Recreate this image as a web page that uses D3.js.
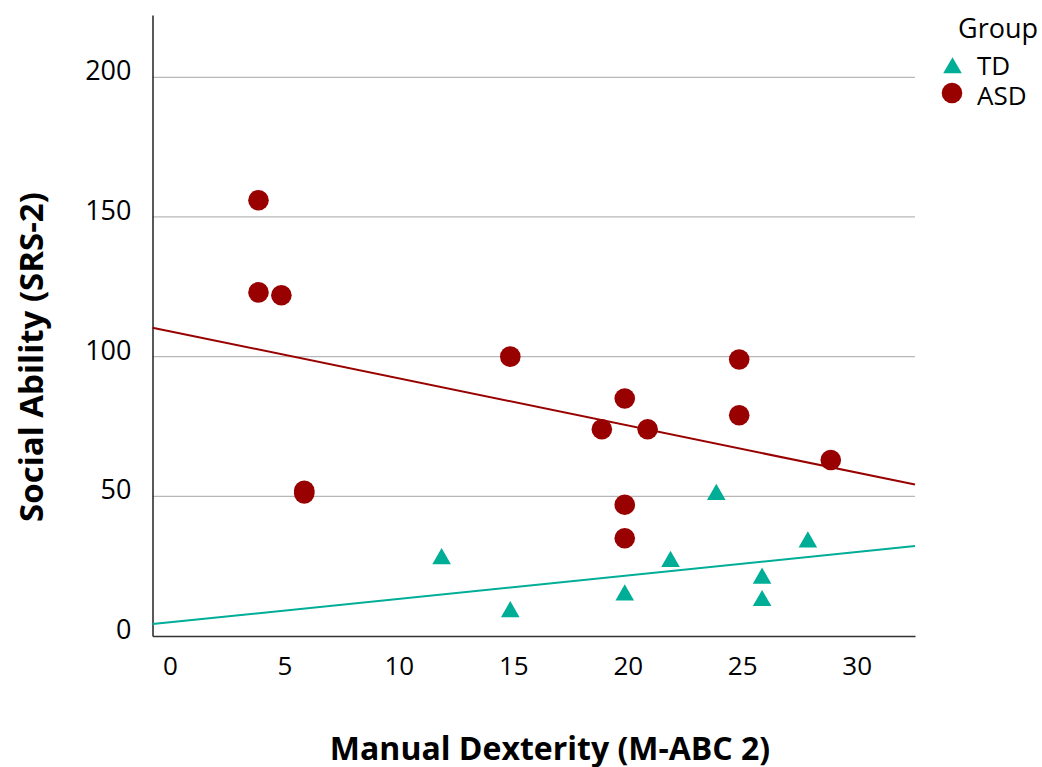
<!DOCTYPE html>
<html>
<head>
<meta charset="utf-8">
<script src="https://cdn.jsdelivr.net/npm/d3@7"></script>
<style>
  body { margin: 0; background: #fff; }
  svg { display: block; }
  text { font-family: "Open Sans", "Lato", sans-serif; fill: #000; }
</style>
</head>
<body>
<svg id="chart" width="1042" height="767"></svg>
<script>
// ---- data ----
const asdX = [4, 4, 5, 6, 6, 15, 19, 20, 21, 20, 20, 25, 25, 29];
const asdY = [156, 123, 122, 52, 51, 100, 74, 85, 74, 47, 35, 99, 79, 63];
const tdX = [12, 15, 20, 22, 24, 26, 26, 28];
const tdY = [28, 9, 15, 27, 51, 21, 13, 34];
// fitted lines (intercept, slope) as drawn in the reference
const groups = ["TD", "ASD"];
const fitIntercept = [4.8, 109.3];
const fitSlope = [0.838, -1.686];
const yTicks = [0, 50, 100, 150, 200];
const xTicks = [0, 5, 10, 15, 20, 25, 30];

const colors = { TD: "#00ae98", ASD: "#990000" };
const FONT = "'Open Sans', Lato, sans-serif";

const svg = d3.select("#chart");
const x = d3.scaleLinear().domain([-0.63, 32.68]).range([152.5, 915]);
const y = d3.scaleLinear().domain([0, 222.3]).range([636, 15]);

// gridlines
svg.append("g").selectAll("line").data(yTicks.filter(d => d > 0)).join("line")
  .attr("x1", x.range()[0]).attr("x2", x.range()[1])
  .attr("y1", d => y(d)).attr("y2", d => y(d))
  .attr("stroke", "#b8b8b8").attr("stroke-width", 1.3);

// axes (no tick marks)
const yAxis = svg.append("g").attr("transform", `translate(${x.range()[0]},0)`)
  .call(d3.axisLeft(y).tickValues(yTicks).tickSize(0).tickPadding(21));
yAxis.select(".domain").attr("stroke", "#222").attr("stroke-width", 1.5);
yAxis.selectAll("text").attr("font-size", 27).attr("y", -7).attr("dy", "0.35em")
  .style("font-family", FONT);

const xAxis = svg.append("g").attr("transform", `translate(0,${y(0)})`)
  .call(d3.axisBottom(x).tickValues(xTicks).tickSize(0));
xAxis.select(".domain").attr("stroke", "#333").attr("stroke-width", 1.5);
xAxis.selectAll("text").attr("font-size", 26).attr("y", 30).attr("dy", "0.35em").attr("dx", 3)
  .style("font-family", FONT);

// regression lines
const [xa, xb] = x.domain();
groups.forEach((g, i) => {
  svg.append("line")
    .attr("x1", x(xa)).attr("y1", y(fitIntercept[i] + fitSlope[i] * xa))
    .attr("x2", x(xb)).attr("y2", y(fitIntercept[i] + fitSlope[i] * xb))
    .attr("stroke", colors[g]).attr("stroke-width", 2);
});

// points
const tri = d3.symbol().type(d3.symbolTriangle).size(150);
svg.append("g").selectAll("path").data(tdX.map((d, i) => [d, tdY[i]])).join("path")
  .attr("d", tri)
  .attr("transform", d => `translate(${x(d[0])},${y(d[1]) + 1})`)
  .attr("fill", colors.TD);

svg.append("g").selectAll("circle").data(asdX.map((d, i) => [d, asdY[i]])).join("circle")
  .attr("cx", d => x(d[0])).attr("cy", d => y(d[1])).attr("r", 10.3)
  .attr("fill", colors.ASD);

// axis titles
svg.append("text").attr("x", 550).attr("y", 747).attr("text-anchor", "middle")
  .attr("dominant-baseline", "central")
  .attr("font-size", 32).attr("font-weight", "bold").text("Manual Dexterity (M-ABC 2)");
svg.append("text").attr("transform", "translate(30,357) rotate(-90)")
  .attr("text-anchor", "middle").attr("dominant-baseline", "central")
  .attr("font-size", 33).attr("font-weight", "bold").text("Social Ability (SRS-2)");

// legend
svg.append("text").attr("x", 958).attr("y", 27).attr("dominant-baseline", "central")
  .attr("font-size", 27).text("Group");
const leg = svg.append("g");
leg.append("path").attr("d", d3.symbol().type(d3.symbolTriangle).size(150))
  .attr("transform", "translate(952.5,68)").attr("fill", colors.TD);
leg.append("circle").attr("cx", 952).attr("cy", 93).attr("r", 10.3).attr("fill", colors.ASD);
leg.selectAll("text.lbl").data(groups).join("text").attr("class", "lbl")
  .attr("x", 977).attr("y", (d, i) => 66 + i * 30).attr("dy", "0.36em")
  .attr("font-size", 26).text(d => d);
</script>
</body>
</html>
